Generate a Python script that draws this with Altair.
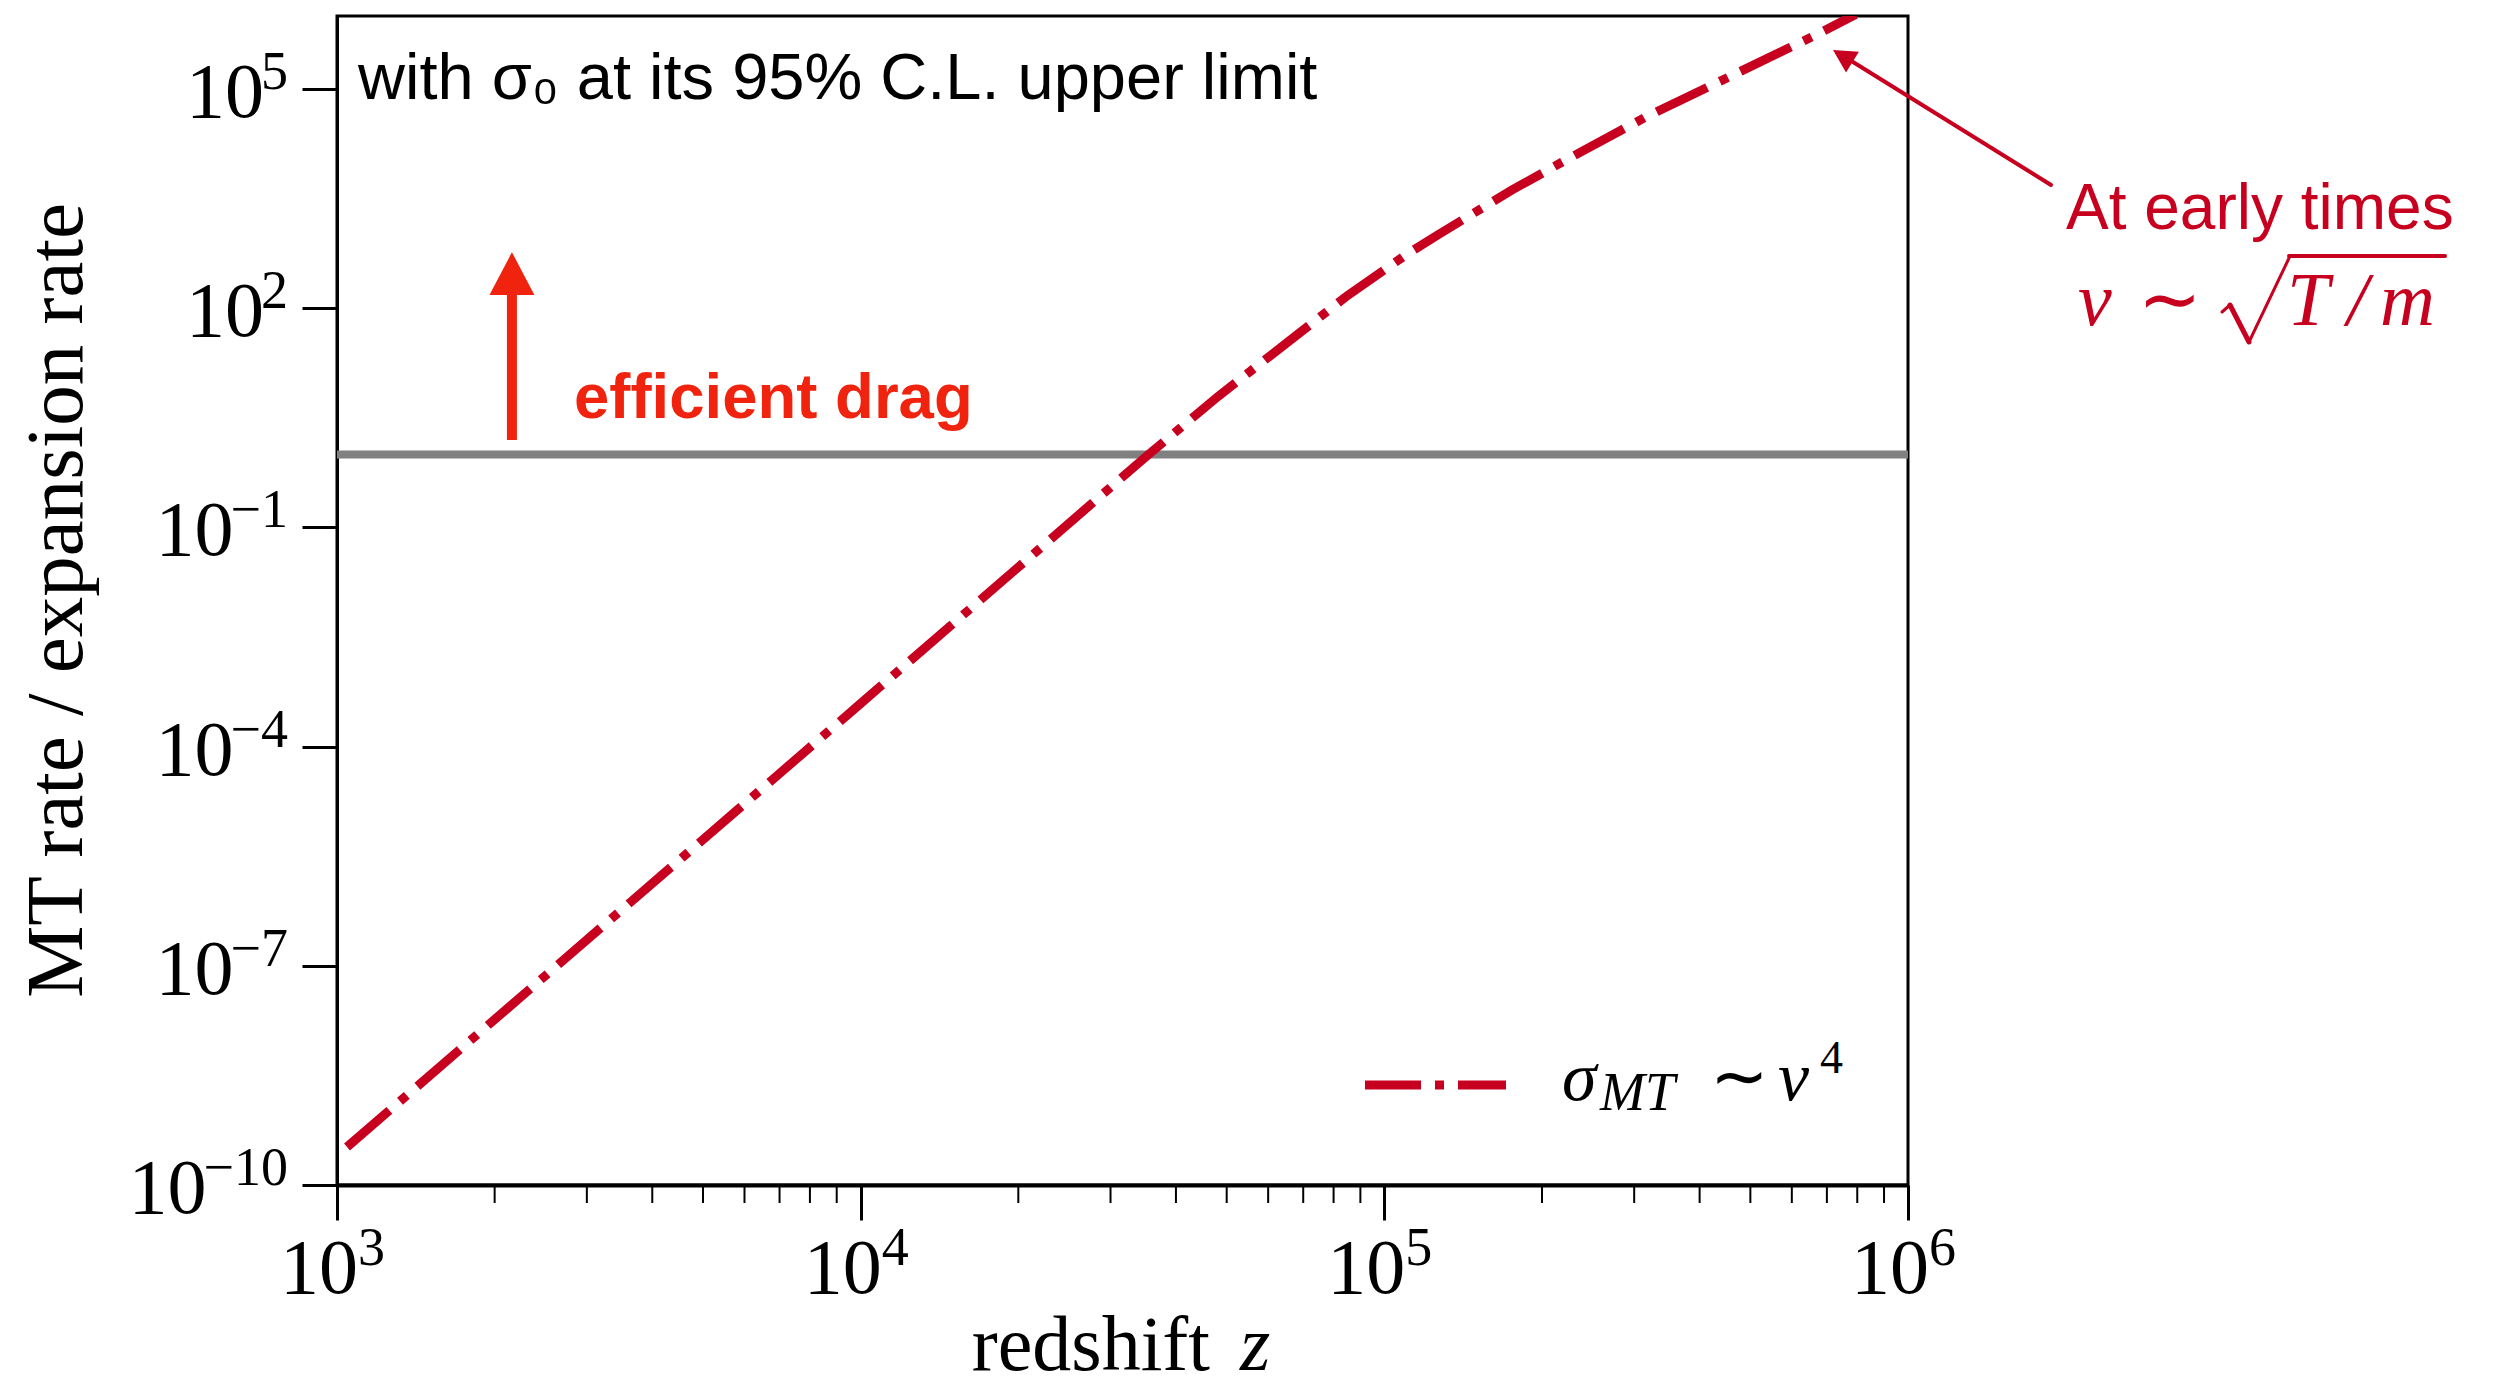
import altair as alt
import pandas as pd

# ---- data -------------------------------------------------------------
# momentum-transfer rate / expansion rate along redshift
redshift = [1045, 3673, 10000, 35480, 48080, 65770, 84920, 109400, 126200,
            175400, 222300, 316200, 459200, 666800, 794300]
rate_ratio = [3.31e-10, 7.94e-7, 3.89e-4, 1.0, 6.17, 35.5, 148, 525, 1000,
              4170, 1.07e4, 4.17e4, 1.51e5, 5.50e5, 1.05e6]

drag_threshold = 1.0            # efficient-drag boundary
x_major = [1e3, 1e4, 1e5, 1e6]
x_minor = [m * 10 ** e for e in (3, 4, 5) for m in range(2, 10)]
y_exponents = [-10, -7, -4, -1, 2, 5]
x_exponents = [3, 4, 5, 6]

arrow_z = 2158                  # "efficient drag" arrow position
arrow_from, arrow_head = 1.57, 152
drag_label_z, drag_label_y = 2835, 3.15

# ---- style ------------------------------------------------------------
W, H = 1571, 1169
CRIMSON = "#c8001f"
RED = "#f0230f"
SERIF = "Liberation Serif"
SANS = "Liberation Sans"

xs = alt.Scale(type="log", domain=[1e3, 1e6], nice=False)
ys = alt.Scale(type="log", domain=[1e-10, 1e6], nice=False)

curve_df = pd.DataFrame({"z": redshift, "r": rate_ratio})


def label(text, x, y, size, font=SERIF, color="black", style="normal",
          weight="normal", align="left", baseline="alphabetic", angle=0):
    return alt.Chart(pd.DataFrame({"t": [text]})).mark_text(
        font=font, fontSize=size, color=color, fontStyle=style,
        fontWeight=weight, align=align, baseline=baseline, angle=angle,
    ).encode(x=alt.value(x), y=alt.value(y), text="t:N")


def seg(x1, y1, x2, y2, width, color):
    return alt.Chart(pd.DataFrame({"k": [0]})).mark_rule(
        color=color, strokeWidth=width, strokeCap="round"
    ).encode(x=alt.value(x1), y=alt.value(y1), x2=alt.value(x2), y2=alt.value(y2))


# threshold line
threshold = alt.Chart(pd.DataFrame({"y": [drag_threshold]})).mark_rule(
    color="#808080", strokeWidth=8
).encode(y=alt.Y("y:Q", scale=ys))

# main curve carries the axes
curve = alt.Chart(curve_df).mark_line(
    color=CRIMSON, strokeWidth=9, strokeDash=[56, 14, 9, 14], clip=True
).encode(
    x=alt.X("z:Q", scale=xs, axis=alt.Axis(
        values=x_major, tickSize=35, tickWidth=3, tickColor="black",
        domainColor="black", domainWidth=4, labels=False, title=None, grid=False)),
    y=alt.Y("r:Q", scale=ys, axis=alt.Axis(
        values=[10.0 ** e for e in y_exponents], tickSize=35, tickWidth=3,
        tickColor="black", domainColor="black", domainWidth=3, labels=False,
        title=None, grid=False)),
)

# minor ticks on the redshift axis
minor = alt.Chart(pd.DataFrame({"z": x_minor})).mark_rule(
    color="black", strokeWidth=2
).encode(x=alt.X("z:Q", scale=xs), y=alt.value(H), y2=alt.value(H + 18))

layers = [threshold, curve, minor]

# y tick labels 10^n
def sup(e):
    return ("\u2212" if e < 0 else "") + str(abs(e))

EXP_SIZE, BASE_SIZE = 54, 78
for e in y_exponents:
    s = sup(e)
    w = 0.5 * EXP_SIZE * len(str(abs(e))) + (0.564 * EXP_SIZE if e < 0 else 0)
    row = pd.DataFrame({"v": [10.0 ** e], "b": ["10"], "s": [s]})
    layers.append(alt.Chart(row).mark_text(
        font=SERIF, fontSize=EXP_SIZE, align="right", baseline="alphabetic"
    ).encode(x=alt.value(-49), y=alt.Y("v:Q", scale=ys), text="s:N"))
    layers.append(alt.Chart(row).mark_text(
        font=SERIF, fontSize=BASE_SIZE, align="right", baseline="alphabetic", dy=28
    ).encode(x=alt.value(-49 - w + 3), y=alt.Y("v:Q", scale=ys), text="b:N"))

# x tick labels 10^n
xl = pd.DataFrame({"v": [10.0 ** e for e in x_exponents], "b": ["10"] * 4,
                   "s": [str(e) for e in x_exponents]})
layers.append(alt.Chart(xl).mark_text(
    font=SERIF, fontSize=BASE_SIZE, align="right", baseline="alphabetic", dx=21
).encode(x=alt.X("v:Q", scale=xs), y=alt.value(1277), text="b:N"))
layers.append(alt.Chart(xl).mark_text(
    font=SERIF, fontSize=EXP_SIZE, align="left", baseline="alphabetic", dx=21
).encode(x=alt.X("v:Q", scale=xs), y=alt.value(1249), text="s:N"))

# axis titles
layers += [
    label("MT rate / expansion rate", -255, H / 2, 81, align="center", angle=270),
    label("redshift", 873, 1354, 78, align="right"),
    label("z", 903, 1354, 78, style="italic"),
]

# header note
layers.append(label("with \u03c3\u2080 at its 95% C.L. upper limit", 21, 83, 65, font=SANS))

# efficient drag arrow + label
arrow_df = pd.DataFrame({"z": [arrow_z], "a": [arrow_from], "b": [arrow_head]})
layers.append(alt.Chart(arrow_df).mark_rule(color=RED, strokeWidth=10).encode(
    x=alt.X("z:Q", scale=xs), y=alt.Y("a:Q", scale=ys), y2="b:Q"))
layers.append(alt.Chart(arrow_df).mark_point(
    shape="M-1,0 L0,-1.9 L1,0 Z", size=2025, filled=True, color=RED, opacity=1,
    strokeWidth=0
).encode(x=alt.X("z:Q", scale=xs), y=alt.Y("b:Q", scale=ys)))
drag_df = pd.DataFrame({"z": [drag_label_z], "y": [drag_label_y], "t": ["efficient drag"]})
layers.append(alt.Chart(drag_df).mark_text(
    font=SANS, fontSize=63.5, fontWeight="bold", color=RED, align="left",
    baseline="alphabetic"
).encode(x=alt.X("z:Q", scale=xs), y=alt.Y("y:Q", scale=ys), text="t:N"))

# legend entry
layers.append(alt.Chart(pd.DataFrame({"k": [0]})).mark_rule(
    color=CRIMSON, strokeWidth=9, strokeDash=[56, 14, 9, 14]
).encode(x=alt.value(1028), x2=alt.value(1169), y=alt.value(1069)))
layers += [
    label("\u03c3", 1225, 1084, 70, style="italic"),
    label("MT", 1263, 1094, 54, style="italic"),
    label("\u223c", 1373, 1084, 70),
    label("v", 1441, 1084, 70, style="italic"),
    label("4", 1483, 1057, 46),
]

# early-times annotation
layers += [
    seg(1714, 169, 1516, 46, 4, CRIMSON),
    alt.Chart(pd.DataFrame({"k": [0]})).mark_point(
        shape="M0,0 L-0.9,1.7 L0.9,1.7 Z", size=729, angle=302, filled=True,
        color=CRIMSON, opacity=1, strokeWidth=0
    ).encode(x=alt.value(1496), y=alt.value(34)),
    label("At early times", 1729, 213, 64, font=SANS, color=CRIMSON),
    label("v", 1741, 309, 76, style="italic", color=CRIMSON),
    label("\u223c", 1801, 309, 76, color=CRIMSON),
    seg(1885, 296, 1893, 289, 3, CRIMSON),
    seg(1893, 289, 1912, 326, 5, CRIMSON),
    seg(1912, 326, 1953, 240, 3, CRIMSON),
    seg(1952, 240, 2108, 240, 4, CRIMSON),
    label("T", 1950, 309, 76, style="italic", color=CRIMSON),
    label("/", 2010, 309, 76, style="italic", color=CRIMSON),
    label("m", 2043, 309, 76, style="italic", color=CRIMSON),
]

chart = alt.layer(*layers).properties(
    width=W, height=H,
    autosize=alt.AutoSizeParams(type="none"),
    padding={"left": 337, "top": 16, "right": 587, "bottom": 201},
    background="white",
).configure_view(stroke="black", strokeWidth=3)

chart.save("out.html", embed_options={"renderer": "svg", "actions": False})
